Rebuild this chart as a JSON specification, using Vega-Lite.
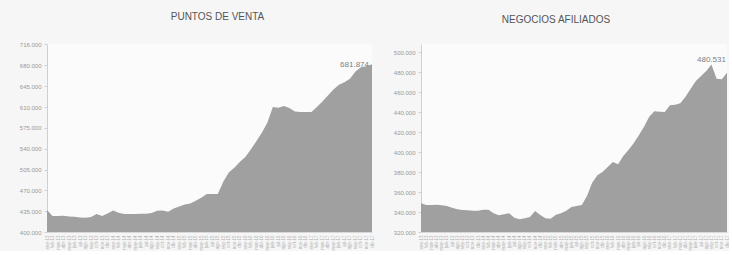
{
  "$schema": "https://vega.github.io/schema/vega-lite/v6.json",
  "background": "#f6f6f6",
  "padding": {"left": 0, "right": 0, "top": 12, "bottom": 0},
  "spacing": 15,
  "config": {
    "font": "Liberation Sans",
    "view": {"stroke": null, "fill": "#fbfbfb"},
    "axisY": {"grid": false, "domainColor": "#d0d0d0", "tickColor": "#d0d0d0", "tickSize": 3, "labelFontSize": 6, "labelColor": "#999999", "labelPadding": 3, "title": null},
    "axisX": {"grid": false, "domainColor": "#d8d8d8", "ticks": false, "labelFontSize": 4.5, "labelColor": "#b0b0b0", "labelAngle": -90, "labelPadding": 3, "labelOverlap": false, "title": null},
    "title": {"fontSize": 10, "fontWeight": "normal", "color": "#555555", "frame": "group", "anchor": "middle"}
  },
  "datasets": {
    "pv": [
      {"mes": "ene-13", "valor": 436861}, {"mes": "feb-13", "valor": 426808}, {"mes": "mar-13", "valor": 426808}, {"mes": "abr-13", "valor": 427367}, {"mes": "may-13", "valor": 426249}, {"mes": "jun-13", "valor": 425691}, {"mes": "jul-13", "valor": 424574}, {"mes": "ago-13", "valor": 424015}, {"mes": "sep-13", "valor": 425133}, {"mes": "oct-13", "valor": 430159}, {"mes": "nov-13", "valor": 426808}, {"mes": "dic-13", "valor": 431276},
      {"mes": "ene-14", "valor": 436302}, {"mes": "feb-14", "valor": 432391}, {"mes": "mar-14", "valor": 430159}, {"mes": "abr-14", "valor": 430159}, {"mes": "may-14", "valor": 430159}, {"mes": "jun-14", "valor": 430718}, {"mes": "jul-14", "valor": 430718}, {"mes": "ago-14", "valor": 431835}, {"mes": "sep-14", "valor": 435744}, {"mes": "oct-14", "valor": 436302}, {"mes": "nov-14", "valor": 434068}, {"mes": "dic-14", "valor": 439653},
      {"mes": "ene-15", "valor": 443004}, {"mes": "feb-15", "valor": 446355}, {"mes": "mar-15", "valor": 448030}, {"mes": "abr-15", "valor": 452498}, {"mes": "may-15", "valor": 457525}, {"mes": "jun-15", "valor": 463669}, {"mes": "jul-15", "valor": 463669}, {"mes": "ago-15", "valor": 463669}, {"mes": "sep-15", "valor": 484333}, {"mes": "oct-15", "valor": 499973}, {"mes": "nov-15", "valor": 507792}, {"mes": "dic-15", "valor": 517845},
      {"mes": "ene-16", "valor": 526223}, {"mes": "feb-16", "valor": 538510}, {"mes": "mar-16", "valor": 552471}, {"mes": "abr-16", "valor": 566992}, {"mes": "may-16", "valor": 583748}, {"mes": "jun-16", "valor": 609995}, {"mes": "jul-16", "valor": 608878}, {"mes": "ago-16", "valor": 611671}, {"mes": "sep-16", "valor": 608320}, {"mes": "oct-16", "valor": 602736}, {"mes": "nov-16", "valor": 601619}, {"mes": "dic-16", "valor": 601619},
      {"mes": "ene-17", "valor": 601619}, {"mes": "feb-17", "valor": 609995}, {"mes": "mar-17", "valor": 619491}, {"mes": "abr-17", "valor": 629544}, {"mes": "may-17", "valor": 639597}, {"mes": "jun-17", "valor": 647416}, {"mes": "jul-17", "valor": 651884}, {"mes": "ago-17", "valor": 657469}, {"mes": "sep-17", "valor": 669756}, {"mes": "oct-17", "valor": 677016}, {"mes": "nov-17", "valor": 678692}, {"mes": "dic-17", "valor": 681874, "etiqueta": "681.874"}
    ],
    "na": [
      {"mes": "ene-13", "valor": 348700}, {"mes": "feb-13", "valor": 347030}, {"mes": "mar-13", "valor": 347030}, {"mes": "abr-13", "valor": 347370}, {"mes": "may-13", "valor": 346700}, {"mes": "jun-13", "valor": 346030}, {"mes": "jul-13", "valor": 344370}, {"mes": "ago-13", "valor": 342700}, {"mes": "sep-13", "valor": 342030}, {"mes": "oct-13", "valor": 341700}, {"mes": "nov-13", "valor": 341370}, {"mes": "dic-13", "valor": 341370},
      {"mes": "ene-14", "valor": 342370}, {"mes": "feb-14", "valor": 342370}, {"mes": "mar-14", "valor": 338700}, {"mes": "abr-14", "valor": 336700}, {"mes": "may-14", "valor": 337700}, {"mes": "jun-14", "valor": 338700}, {"mes": "jul-14", "valor": 334370}, {"mes": "ago-14", "valor": 332700}, {"mes": "sep-14", "valor": 333700}, {"mes": "oct-14", "valor": 335030}, {"mes": "nov-14", "valor": 341030}, {"mes": "dic-14", "valor": 337030},
      {"mes": "ene-15", "valor": 333700}, {"mes": "feb-15", "valor": 333370}, {"mes": "mar-15", "valor": 337370}, {"mes": "abr-15", "valor": 338700}, {"mes": "may-15", "valor": 341370}, {"mes": "jun-15", "valor": 345030}, {"mes": "jul-15", "valor": 346030}, {"mes": "ago-15", "valor": 347030}, {"mes": "sep-15", "valor": 356030}, {"mes": "oct-15", "valor": 369370}, {"mes": "nov-15", "valor": 376700}, {"mes": "dic-15", "valor": 380030},
      {"mes": "ene-16", "valor": 385030}, {"mes": "feb-16", "valor": 390030}, {"mes": "mar-16", "valor": 387700}, {"mes": "abr-16", "valor": 396030}, {"mes": "may-16", "valor": 402030}, {"mes": "jun-16", "valor": 408700}, {"mes": "jul-16", "valor": 416700}, {"mes": "ago-16", "valor": 425370}, {"mes": "sep-16", "valor": 435370}, {"mes": "oct-16", "valor": 440700}, {"mes": "nov-16", "valor": 440370}, {"mes": "dic-16", "valor": 440030},
      {"mes": "ene-17", "valor": 446700}, {"mes": "feb-17", "valor": 447370}, {"mes": "mar-17", "valor": 448700}, {"mes": "abr-17", "valor": 455370}, {"mes": "may-17", "valor": 463370}, {"mes": "jun-17", "valor": 471030}, {"mes": "jul-17", "valor": 476030}, {"mes": "ago-17", "valor": 481000}, {"mes": "sep-17", "valor": 487500, "etiqueta": "480.531"}, {"mes": "oct-17", "valor": 473370}, {"mes": "nov-17", "valor": 472700}, {"mes": "dic-17", "valor": 479370}
    ]
  },
  "hconcat": [
    {
      "data": {"name": "pv"},
      "width": 325,
      "height": 188,
      "title": {"text": "PUNTOS DE VENTA", "offset": 19, "dx": 8},
      "encoding": {
        "x": {"field": "mes", "type": "ordinal", "sort": null, "scale": {"padding": 0}, "axis": {}},
        "y": {"field": "valor", "type": "quantitative", "scale": {"domain": [400000, 716000], "nice": false, "zero": false},
              "axis": {"values": [400000, 435000, 470000, 505000, 540000, 575000, 610000, 645000, 680000, 716000], "labelExpr": "replace(format(datum.value, ',.0f'), ',', '.')", "minExtent": 47, "maxExtent": 47}}
      },
      "layer": [
        {"mark": {"type": "area", "color": "#a0a0a0", "interpolate": "linear", "clip": true}},
        {"transform": [{"filter": "isValid(datum.etiqueta)"}],
         "mark": {"type": "text", "align": "right", "baseline": "middle", "dx": -3, "dy": 1, "fontSize": 8, "color": "#7f7f7f"},
         "encoding": {"text": {"field": "etiqueta"}}}
      ]
    },
    {
      "data": {"name": "na"},
      "width": 306,
      "height": 188,
      "title": {"text": "NEGOCIOS AFILIADOS", "offset": 19, "dx": -18},
      "encoding": {
        "x": {"field": "mes", "type": "ordinal", "sort": null, "scale": {"padding": 0}, "axis": {}},
        "y": {"field": "valor", "type": "quantitative", "scale": {"domain": [320000, 508000], "nice": false, "zero": false},
              "axis": {"values": [320000, 340000, 360000, 380000, 400000, 420000, 440000, 460000, 480000, 500000], "labelExpr": "replace(format(datum.value, ',.0f'), ',', '.')", "minExtent": 32, "maxExtent": 32}}
      },
      "layer": [
        {"mark": {"type": "area", "color": "#a0a0a0", "interpolate": "linear", "clip": true}},
        {"transform": [{"filter": "isValid(datum.etiqueta)"}],
         "mark": {"type": "text", "align": "center", "baseline": "bottom", "dy": -1, "fontSize": 8, "color": "#7f7f7f"},
         "encoding": {"text": {"field": "etiqueta"}}}
      ]
    }
  ]
}
